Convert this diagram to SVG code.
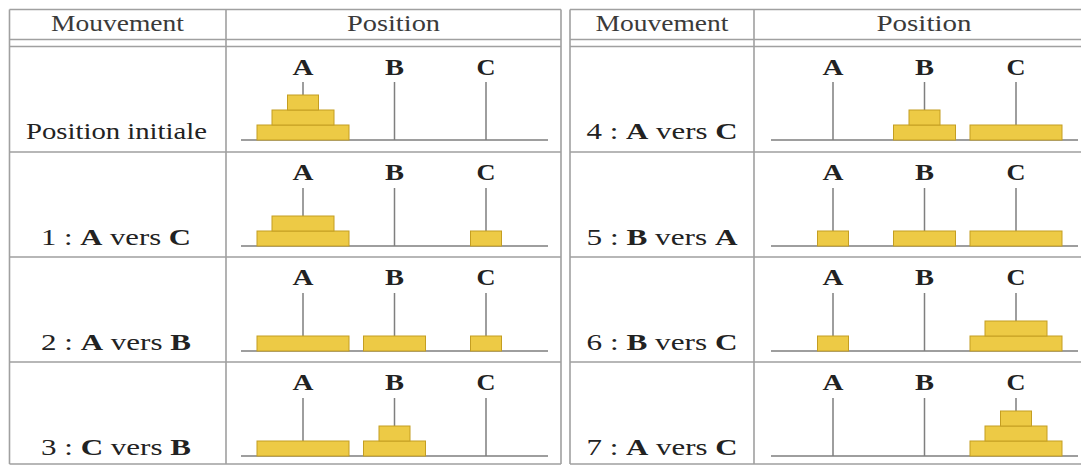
<svg xmlns="http://www.w3.org/2000/svg" width="1081" height="466" viewBox="0 0 1081 466">
<style>
.bg{fill:#ffffff}
.g{stroke:#a0a0a0;stroke-width:1.6;fill:none}
.p{stroke:#7f7f7f;stroke-width:1.5;fill:none}
.d{fill:#EDCA45;stroke:#C49E22;stroke-width:1}
.t{font-family:"Liberation Serif","DejaVu Serif",serif;font-size:23px;fill:#222;text-anchor:middle}
.h{fill:#3a3a3a}
.k{font-weight:bold}
</style>
<rect class="bg" x="0" y="0" width="1081" height="466"/>
<g id="grid">
  <path class="g" d="M9.5 9.5H561 M9.5 39.5H561 M9.5 46.5H561 M9.5 152H561 M9.5 257H561 M9.5 362H561 M9.5 464H561 M9.5 9.5V464 M226 9.5V464 M561 9.5V464"/>
  <path class="g" d="M570 9.5H1081 M570 39.5H1081 M570 46.5H1081 M570 152H1081 M570 257H1081 M570 362H1081 M570 464H1081 M570 9.5V464 M754 9.5V464"/>
</g>
<g id="headers">
  <text class="t h" x="117.5" y="30.5" textLength="133" lengthAdjust="spacingAndGlyphs">Mouvement</text>
  <text class="t h" x="393.5" y="30.5" textLength="93" lengthAdjust="spacingAndGlyphs">Position</text>
  <text class="t h" x="662" y="30.5" textLength="133" lengthAdjust="spacingAndGlyphs">Mouvement</text>
  <text class="t h" x="924" y="30.5" textLength="95" lengthAdjust="spacingAndGlyphs">Position</text>
</g>
<g id="row-0">
  <text class="t" x="116.5" y="139" textLength="181" lengthAdjust="spacingAndGlyphs">Position initiale</text>
  <text class="t k" x="303" y="74.5" textLength="21" lengthAdjust="spacingAndGlyphs">A</text>
  <text class="t k" x="394.5" y="74.5" textLength="19" lengthAdjust="spacingAndGlyphs">B</text>
  <text class="t k" x="486" y="74.5" textLength="19" lengthAdjust="spacingAndGlyphs">C</text>
  <path class="p" d="M241 140H548 M303 82V140 M394.5 82V140 M486 82V140"/>
  <rect class="d" x="257" y="125" width="92" height="15"/>
  <rect class="d" x="272" y="110" width="62" height="15"/>
  <rect class="d" x="287.5" y="95" width="31" height="15"/>
</g>
<g id="row-1">
  <text class="t" x="116" y="245" textLength="150" lengthAdjust="spacingAndGlyphs">1 : <tspan class="k">A</tspan> vers <tspan class="k">C</tspan></text>
  <text class="t k" x="303" y="180" textLength="21" lengthAdjust="spacingAndGlyphs">A</text>
  <text class="t k" x="394.5" y="180" textLength="19" lengthAdjust="spacingAndGlyphs">B</text>
  <text class="t k" x="486" y="180" textLength="19" lengthAdjust="spacingAndGlyphs">C</text>
  <path class="p" d="M241 246H548 M303 188V246 M394.5 188V246 M486 188V246"/>
  <rect class="d" x="257" y="231" width="92" height="15"/>
  <rect class="d" x="272" y="216" width="62" height="15"/>
  <rect class="d" x="470.5" y="231" width="31" height="15"/>
</g>
<g id="row-2">
  <text class="t" x="116" y="350" textLength="150" lengthAdjust="spacingAndGlyphs">2 : <tspan class="k">A</tspan> vers <tspan class="k">B</tspan></text>
  <text class="t k" x="303" y="285" textLength="21" lengthAdjust="spacingAndGlyphs">A</text>
  <text class="t k" x="394.5" y="285" textLength="19" lengthAdjust="spacingAndGlyphs">B</text>
  <text class="t k" x="486" y="285" textLength="19" lengthAdjust="spacingAndGlyphs">C</text>
  <path class="p" d="M241 351H548 M303 293V351 M394.5 293V351 M486 293V351"/>
  <rect class="d" x="257" y="336" width="92" height="15"/>
  <rect class="d" x="363.5" y="336" width="62" height="15"/>
  <rect class="d" x="470.5" y="336" width="31" height="15"/>
</g>
<g id="row-3">
  <text class="t" x="116" y="455" textLength="150" lengthAdjust="spacingAndGlyphs">3 : <tspan class="k">C</tspan> vers <tspan class="k">B</tspan></text>
  <text class="t k" x="303" y="390" textLength="21" lengthAdjust="spacingAndGlyphs">A</text>
  <text class="t k" x="394.5" y="390" textLength="19" lengthAdjust="spacingAndGlyphs">B</text>
  <text class="t k" x="486" y="390" textLength="19" lengthAdjust="spacingAndGlyphs">C</text>
  <path class="p" d="M241 456H548 M303 398V456 M394.5 398V456 M486 398V456"/>
  <rect class="d" x="257" y="441" width="92" height="15"/>
  <rect class="d" x="363.5" y="441" width="62" height="15"/>
  <rect class="d" x="379" y="426" width="31" height="15"/>
</g>
<g id="row-4">
  <text class="t" x="662" y="139" textLength="151" lengthAdjust="spacingAndGlyphs">4 : <tspan class="k">A</tspan> vers <tspan class="k">C</tspan></text>
  <text class="t k" x="833" y="74.5" textLength="21" lengthAdjust="spacingAndGlyphs">A</text>
  <text class="t k" x="924.5" y="74.5" textLength="19" lengthAdjust="spacingAndGlyphs">B</text>
  <text class="t k" x="1016" y="74.5" textLength="19" lengthAdjust="spacingAndGlyphs">C</text>
  <path class="p" d="M771 140H1078 M833 82V140 M924.5 82V140 M1016 82V140"/>
  <rect class="d" x="893.5" y="125" width="62" height="15"/>
  <rect class="d" x="909" y="110" width="31" height="15"/>
  <rect class="d" x="970" y="125" width="92" height="15"/>
</g>
<g id="row-5">
  <text class="t" x="662" y="245" textLength="151" lengthAdjust="spacingAndGlyphs">5 : <tspan class="k">B</tspan> vers <tspan class="k">A</tspan></text>
  <text class="t k" x="833" y="180" textLength="21" lengthAdjust="spacingAndGlyphs">A</text>
  <text class="t k" x="924.5" y="180" textLength="19" lengthAdjust="spacingAndGlyphs">B</text>
  <text class="t k" x="1016" y="180" textLength="19" lengthAdjust="spacingAndGlyphs">C</text>
  <path class="p" d="M771 246H1078 M833 188V246 M924.5 188V246 M1016 188V246"/>
  <rect class="d" x="817.5" y="231" width="31" height="15"/>
  <rect class="d" x="893.5" y="231" width="62" height="15"/>
  <rect class="d" x="970" y="231" width="92" height="15"/>
</g>
<g id="row-6">
  <text class="t" x="662" y="350" textLength="151" lengthAdjust="spacingAndGlyphs">6 : <tspan class="k">B</tspan> vers <tspan class="k">C</tspan></text>
  <text class="t k" x="833" y="285" textLength="21" lengthAdjust="spacingAndGlyphs">A</text>
  <text class="t k" x="924.5" y="285" textLength="19" lengthAdjust="spacingAndGlyphs">B</text>
  <text class="t k" x="1016" y="285" textLength="19" lengthAdjust="spacingAndGlyphs">C</text>
  <path class="p" d="M771 351H1078 M833 293V351 M924.5 293V351 M1016 293V351"/>
  <rect class="d" x="817.5" y="336" width="31" height="15"/>
  <rect class="d" x="970" y="336" width="92" height="15"/>
  <rect class="d" x="985" y="321" width="62" height="15"/>
</g>
<g id="row-7">
  <text class="t" x="662" y="455" textLength="151" lengthAdjust="spacingAndGlyphs">7 : <tspan class="k">A</tspan> vers <tspan class="k">C</tspan></text>
  <text class="t k" x="833" y="390" textLength="21" lengthAdjust="spacingAndGlyphs">A</text>
  <text class="t k" x="924.5" y="390" textLength="19" lengthAdjust="spacingAndGlyphs">B</text>
  <text class="t k" x="1016" y="390" textLength="19" lengthAdjust="spacingAndGlyphs">C</text>
  <path class="p" d="M771 456H1078 M833 398V456 M924.5 398V456 M1016 398V456"/>
  <rect class="d" x="970" y="441" width="92" height="15"/>
  <rect class="d" x="985" y="426" width="62" height="15"/>
  <rect class="d" x="1000.5" y="411" width="31" height="15"/>
</g>
</svg>
